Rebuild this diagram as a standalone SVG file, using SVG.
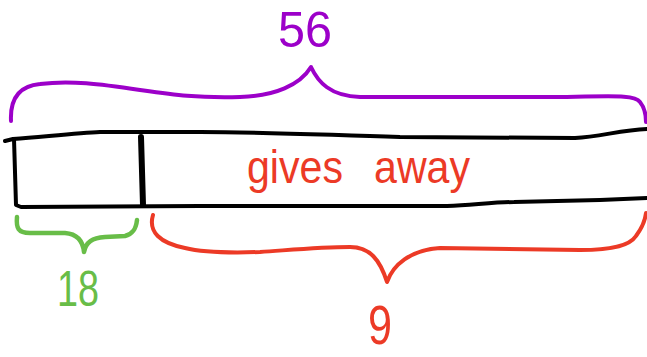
<svg xmlns="http://www.w3.org/2000/svg" width="647" height="357" viewBox="0 0 647 357">
<style>
.ink{fill:none;stroke-linecap:round;stroke-linejoin:round}
.blk{stroke:#000;stroke-width:4}
.pur{stroke:#9c00c9;stroke-width:4}
.grn{stroke:#68bd48;stroke-width:4.5}
.red{stroke:#ec3a26;stroke-width:4}
.lbl{font-family:"Liberation Sans",Arial,sans-serif}
</style>
<rect width="647" height="357" fill="#fff"/>
<g id="tape">
<path class="ink blk" d="M5,141 L13,139 C50,136 80,133 100,132 L200,132 C260,132 300,134 400,137 L575,138 C600,137 620,130 647,129"/>
<path class="ink blk" d="M14,139 L16,205 L21,207 L200,206 L447,206 C480,204 500,202 514,202 L600,200 L647,198"/>
<path class="ink blk" d="M141,137 L143,205" style="stroke-width:6"/>
<text class="lbl" x="247" y="183" font-size="46" word-spacing="22" fill="#ec3a26" textLength="223" lengthAdjust="spacingAndGlyphs">gives away</text>
</g>
<g id="brace-total">
<path class="ink pur" d="M11,121 C10,100 18,86 40,84 C70,80 100,84 140,90 C175,95 195,98 240,97 C275,96 300,85 311,67 C318,82 330,96 360,97 L560,97 C620,96 635,95 640,102 C645,108 646,115 646,122"/>
<text class="lbl" x="305" y="47" font-size="50" text-anchor="middle" fill="#9c00c9" textLength="54" lengthAdjust="spacingAndGlyphs">56</text>
</g>
<g id="brace-part">
<path class="ink grn" d="M17,217 C16,228 18,233 30,233 L65,233 C78,234 83,242 84,252 C86,242 92,238 105,237 L125,236 C133,234 136,229 137,220"/>
<text class="lbl" x="78" y="306" font-size="50" text-anchor="middle" fill="#68bd48" textLength="42" lengthAdjust="spacingAndGlyphs">18</text>
</g>
<g id="brace-given">
<path class="ink red" d="M153,215 C148,232 160,243 185,248 C205,253 230,253 260,252 C290,250 320,247 350,247 C370,247 380,260 387,282 C393,265 410,250 440,248 L580,250 C615,250 630,245 636,236 C642,228 645,222 646,213"/>
<text class="lbl" x="380" y="344" font-size="56" text-anchor="middle" fill="#ec3a26" textLength="24" lengthAdjust="spacingAndGlyphs">9</text>
</g>
</svg>
